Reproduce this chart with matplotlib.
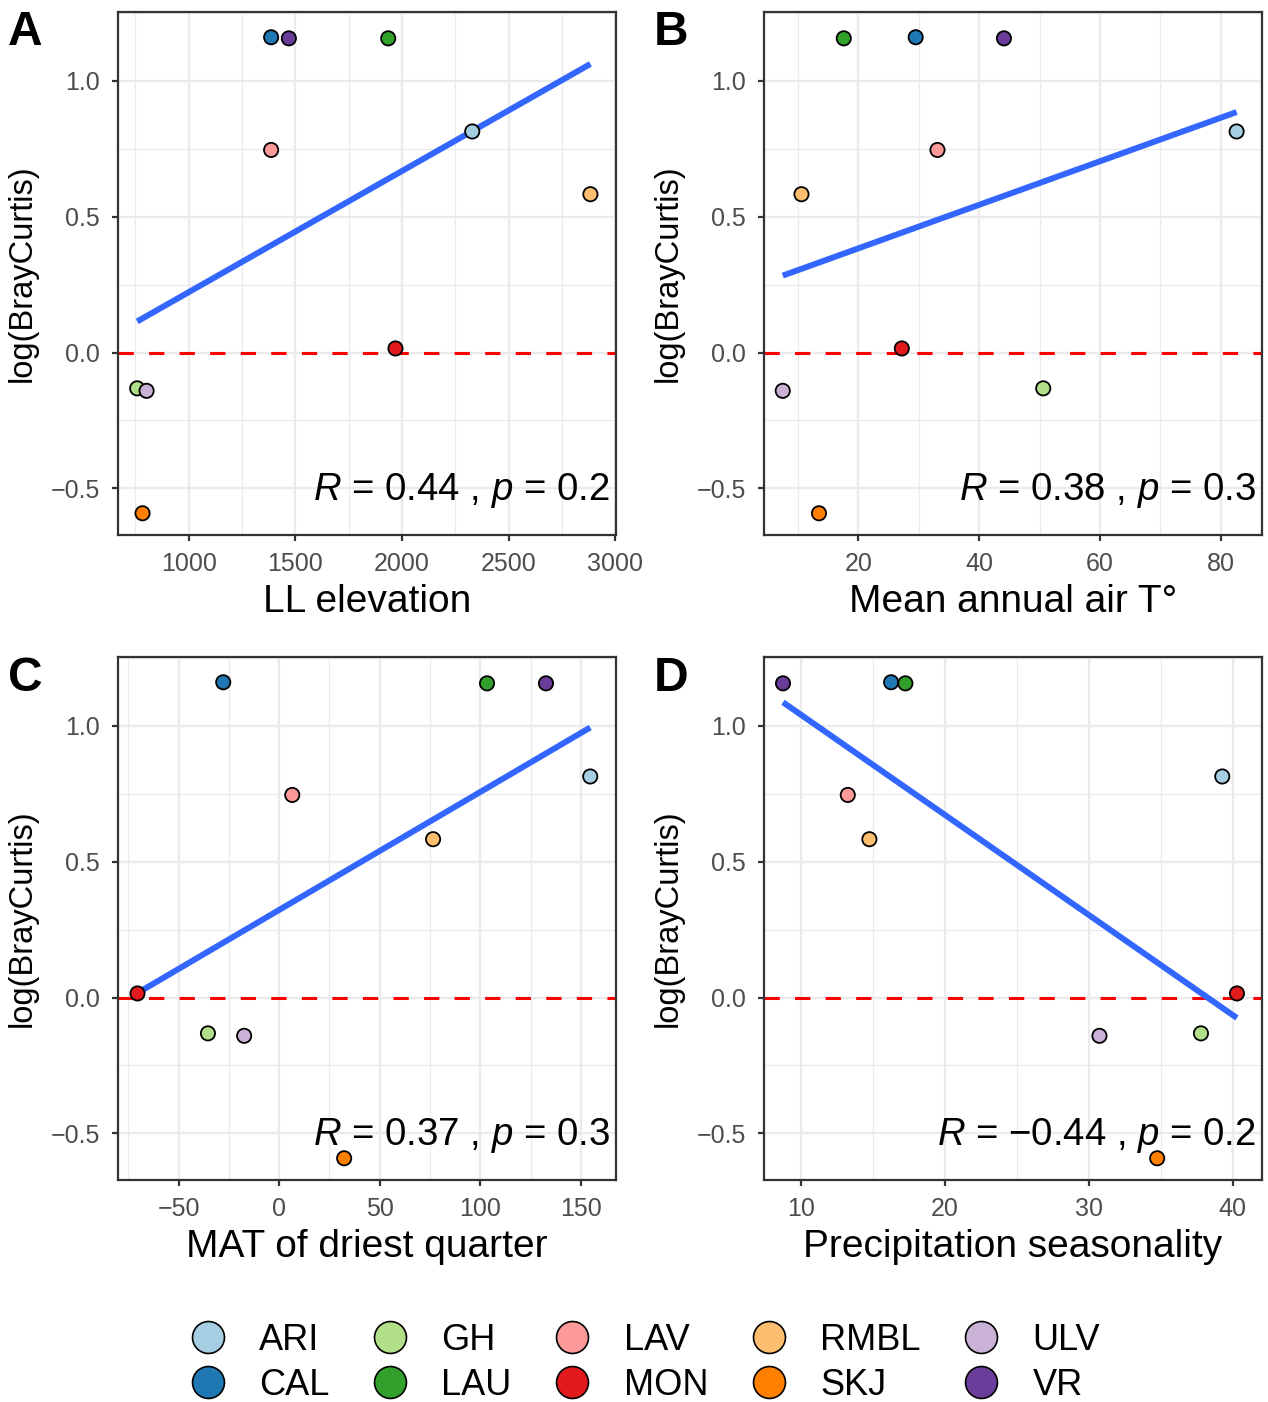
import numpy as np
import matplotlib
matplotlib.use("Agg")
import matplotlib.pyplot as plt
from matplotlib.lines import Line2D
from matplotlib.ticker import MultipleLocator

plt.rcParams['font.family'] = ['Liberation Sans', 'DejaVu Sans']
plt.rcParams['mathtext.fontset'] = 'custom'
plt.rcParams['mathtext.rm'] = 'Liberation Sans'
plt.rcParams['mathtext.it'] = 'Liberation Sans:italic'
plt.rcParams['lines.scale_dashes'] = False

# ---------------- data ----------------
sites = ["ARI", "CAL", "GH", "LAU", "LAV", "MON", "RMBL", "SKJ", "ULV", "VR"]
site_colors = ["#A6CEE3", "#1F78B4", "#B2DF8A", "#33A02C", "#FB9A99",
               "#E31A1C", "#FDBF6F", "#FF7F00", "#CAB2D6", "#6A3D9A"]
log_bray = [0.814, 1.161, -0.132, 1.157, 0.746, 0.015, 0.583, -0.592, -0.141, 1.157]

ll_elevation = [2330, 1387, 759, 1936, 1387, 1970, 2884, 784, 803, 1470]
mean_air_t = [82.6, 29.5, 50.6, 17.6, 33.1, 27.2, 10.6, 13.5, 7.5, 44.1]
mat_driest = [154.6, -27.8, -35.4, 103.3, 6.5, -70.4, 76.5, 32.3, -17.4, 132.6]
precip_season = [39.28, 16.28, 37.8, 17.27, 13.27, 40.30, 14.77, 34.76, 30.75, 8.77]

panel_letters = ["A", "B", "C", "D"]
x_titles = ["LL elevation", "Mean annual air T°", "MAT of driest quarter", "Precipitation seasonality"]
cor_labels = ["$R$ = 0.44 , $p$ = 0.2", "$R$ = 0.38 , $p$ = 0.3",
              "$R$ = 0.37 , $p$ = 0.3", "$R$ = \u22120.44 , $p$ = 0.2"]
x_steps = [500, 20, 50, 10]
x_limits = [(669, 3004), (4.4, 86.8), (-80.1, 167.4), (7.45, 42.04)]
y_limits = (-0.672, 1.254)
y_label = "log(BrayCurtis)"

# ---------------- layout ----------------
W, H = 1268, 1402
fig = plt.figure(figsize=(W / 100, H / 100), dpi=100)

def rect(l, t, r, b):
    return [l / W, 1 - b / H, (r - l) / W, (b - t) / H]

panel_px = [(118, 12, 616, 535), (764, 12, 1262, 535),
            (118, 657, 616, 1180), (764, 657, 1262, 1180)]
letter_px = [(8, 10), (654, 10), (8, 656), (654, 656)]
xs_all = [ll_elevation, mean_air_t, mat_driest, precip_season]

grid_c = "#EBEBEB"
dark = "#333333"

for i in range(4):
    ax = fig.add_axes(rect(*panel_px[i]))
    x = np.array(xs_all[i], dtype=float)
    y = np.array(log_bray, dtype=float)

    ax.set_axisbelow(True)
    ax.xaxis.set_major_locator(MultipleLocator(x_steps[i]))
    ax.xaxis.set_minor_locator(MultipleLocator(x_steps[i] / 2))
    ax.yaxis.set_major_locator(MultipleLocator(0.5))
    ax.yaxis.set_minor_locator(MultipleLocator(0.25))
    ax.grid(True, which='major', color=grid_c, linewidth=1.7)
    ax.grid(True, which='minor', color=grid_c, linewidth=0.9)

    ax.axhline(0, color="#FF0000", linewidth=2.2, dashes=(11, 11), zorder=2)

    slope, intercept = np.polyfit(x, y, 1)
    xl = np.array([x.min(), x.max()])
    ax.plot(xl, slope * xl + intercept, color="#3366FF", linewidth=4.3,
            solid_capstyle='butt', zorder=3)

    ax.scatter(x, y, s=105, c=site_colors, edgecolors='black', linewidths=1.3, zorder=4)

    ax.set_xlim(*x_limits[i])
    ax.set_ylim(*y_limits)

    for sp in ax.spines.values():
        sp.set_color(dark)
        sp.set_linewidth(1.6)
    ax.tick_params(which='major', length=4, width=1.6, color=dark,
                   labelsize=18, labelcolor="#4D4D4D")
    ax.tick_params(axis='x', which='major', pad=8)
    ax.tick_params(axis='y', which='major', pad=9)
    ax.tick_params(which='minor', length=0)

    ax.set_xlabel(x_titles[i], fontsize=28, labelpad=6)
    ax.set_ylabel(y_label, fontsize=23.5, labelpad=9)

    ax.text(0.988, 0.066, cor_labels[i], transform=ax.transAxes, ha='right',
            va='baseline', fontsize=27.6, zorder=5)

    lx, ly = letter_px[i]
    fig.text(lx / W, 1 - ly / H, panel_letters[i], fontsize=34.5, fontweight='bold',
             ha='left', va='top')

handles = [Line2D([], [], marker='o', linestyle='', markersize=23,
                  markerfacecolor=c, markeredgecolor='black', markeredgewidth=1.2)
           for c in site_colors]
fig.legend(handles, sites, loc='center', bbox_to_anchor=(645 / W, 1 - 1363 / H),
           ncol=5, frameon=False, fontsize=26, handlelength=1.0,
           handletextpad=0.92, columnspacing=1.18, labelspacing=0.28,
           borderaxespad=0)

fig.savefig("out.png", dpi=100)
